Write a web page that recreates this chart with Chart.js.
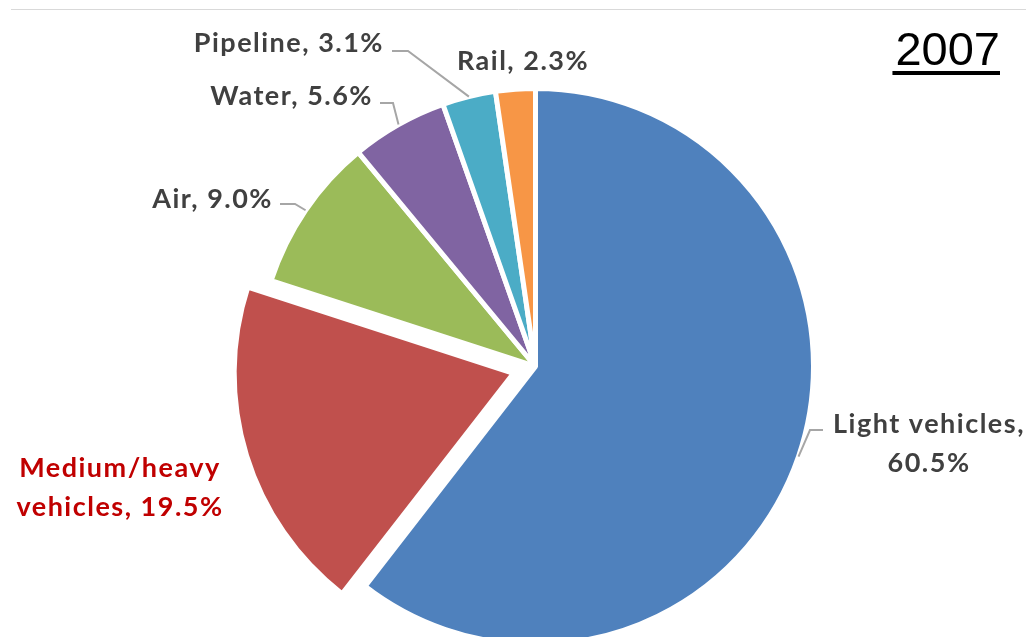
<!DOCTYPE html>
<html lang="en">
<head>
  <meta charset="UTF-8">
  <title>Transport energy use by mode, 2007</title>
  <script src="https://cdn.jsdelivr.net/npm/chart.js"></script>
  <style>
    html, body { margin: 0; padding: 0; background: #fff; }
    canvas { display: block; }
  </style>
</head>
<body>
  <canvas id="pieChart" width="1026" height="637"></canvas>

  <script>
    // data
    const categories = ['Light vehicles', 'Medium/heavy vehicles', 'Air', 'Water', 'Pipeline', 'Rail'];
    const shares = [60.5, 19.5, 9.0, 5.6, 3.1, 2.3];
    const title = '2007';

    // styling
    const sliceColors = ['#4F81BD', '#C0504D', '#9BBB59', '#8064A2', '#4BACC6', '#F79646'];
    const explode = [0, 92, 0, 0, 0, 0]; // only the medium/heavy slice is pulled out

    // where each label sits; leader = [startX, elbowX, y], split = break after n-th space
    const labelLayout = [
      { x: 929, y: 433, align: 'center', split: 2, color: '#404040', leader: [823, 810, 430] },
      { x: 120, y: 477, align: 'center', split: 1, color: '#C00000' },
      { x: 273, y: 208, align: 'right', color: '#404040', leader: [280, 295, 204] },
      { x: 373, y: 105, align: 'right', color: '#404040', leader: [380, 393, 103] },
      { x: 384, y: 52, align: 'right', color: '#404040', leader: [392, 408, 51] },
      { x: 523, y: 70, align: 'center', color: '#404040' }
    ];

    const labelPlugin = {
      id: 'sliceLabels',
      beforeDraw(chart) {
        const ctx = chart.ctx;
        ctx.save();
        ctx.strokeStyle = '#D9D9D9';
        ctx.lineWidth = 1;
        ctx.beginPath();
        ctx.moveTo(11, 9.5);
        ctx.lineTo(chart.width, 9.5);
        ctx.stroke();
        ctx.restore();
      },
      afterDatasetsDraw(chart) {
        const ctx = chart.ctx;
        const meta = chart.getDatasetMeta(0);
        ctx.save();
        meta.data.forEach((arc, i) => {
          const lay = labelLayout[i];
          const p = arc.getProps(['x', 'y', 'startAngle', 'endAngle', 'outerRadius'], true);
          const mid = (p.startAngle + p.endAngle) / 2;

          // leader line to the middle of the slice's rim
          if (lay.leader) {
            const ex = p.x + Math.cos(mid) * p.outerRadius;
            const ey = p.y + Math.sin(mid) * p.outerRadius;
            ctx.strokeStyle = '#A6A6A6';
            ctx.lineWidth = 2;
            ctx.beginPath();
            ctx.moveTo(lay.leader[0], lay.leader[2]);
            ctx.lineTo(lay.leader[1], lay.leader[2]);
            ctx.lineTo(ex, ey);
            ctx.stroke();
          }

          // label text
          const full = categories[i] + ', ' + shares[i].toFixed(1) + '%';
          let lines = [full];
          if (lay.split) {
            const words = full.split(' ');
            lines = [words.slice(0, lay.split).join(' '), words.slice(lay.split).join(' ')];
          }
          ctx.font = 'bold 27px Lato, "Open Sans", sans-serif';
          ctx.letterSpacing = '1.5px';
          ctx.fillStyle = lay.color;
          ctx.textAlign = lay.align;
          ctx.textBaseline = 'alphabetic';
          lines.forEach((t, k) => ctx.fillText(t, lay.x, lay.y + k * 39));
        });

        // year in the corner, underlined
        ctx.letterSpacing = '0px';
        ctx.font = '47px "Liberation Sans", Arial, sans-serif';
        ctx.fillStyle = '#000000';
        ctx.textAlign = 'right';
        ctx.fillText(title, 1000, 65);
        const w = ctx.measureText(title).width;
        ctx.fillRect(1000 - w - 3, 71, w + 3, 4);
        ctx.restore();
      }
    };

    new Chart(document.getElementById('pieChart'), {
      type: 'pie',
      data: {
        labels: categories,
        datasets: [{
          data: shares,
          backgroundColor: sliceColors,
          borderColor: '#FFFFFF',
          borderWidth: 5,
          offset: explode,
          clip: false
        }]
      },
      options: {
        responsive: false,
        animation: false,
        radius: 278,
        layout: { padding: { left: 45, top: 96, right: 0, bottom: 0 } },
        plugins: {
          legend: { display: false },
          tooltip: { enabled: false }
        }
      },
      plugins: [labelPlugin]
    });
  </script>
</body>
</html>
